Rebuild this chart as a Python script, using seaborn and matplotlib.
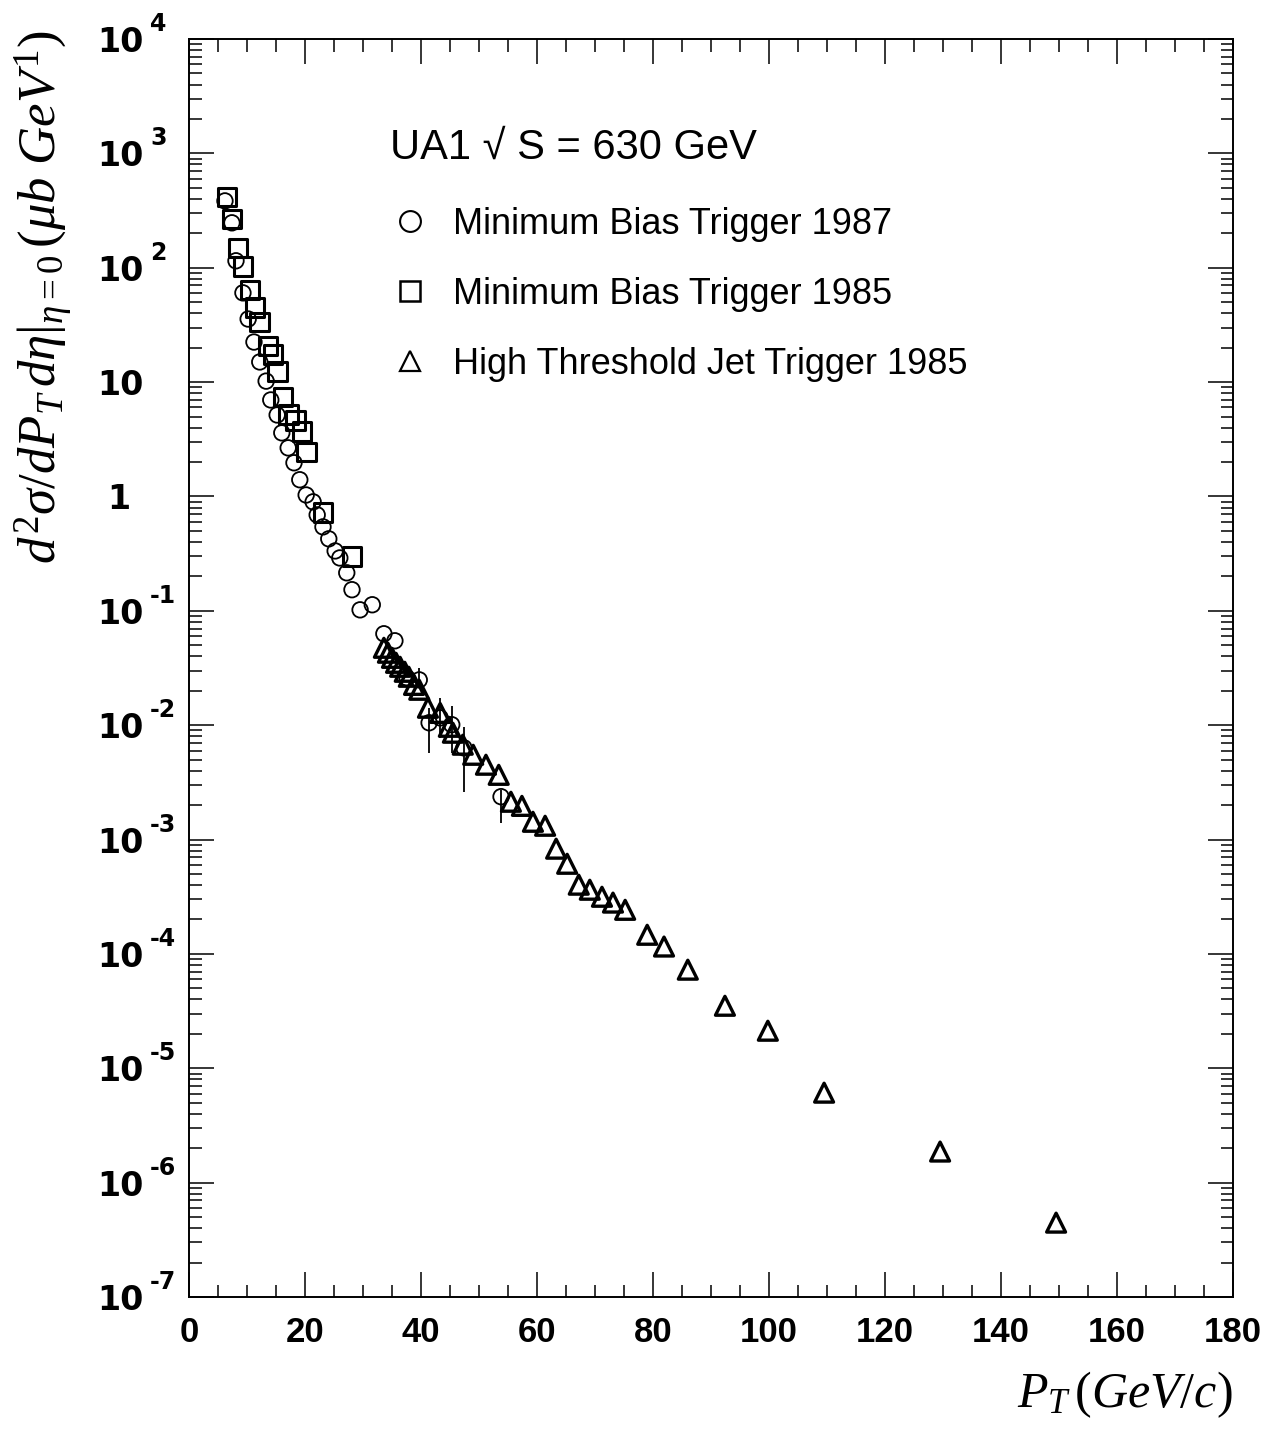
import numpy as np
import pandas as pd
import matplotlib
matplotlib.use("Agg")
import matplotlib.pyplot as plt
import seaborn as sns
from matplotlib.lines import Line2D
from matplotlib.transforms import blended_transform_factory, offset_copy
from matplotlib.ticker import FixedLocator, FixedFormatter, MultipleLocator, NullFormatter

# ---- dati ----
# Minimum Bias Trigger 1987 (cerchi)
pt_mb87 = [6.2, 7.4, 8.1, 9.3, 10.2, 11.2, 12.2, 13.3, 14.1, 15.2, 16.0, 17.1, 18.1, 19.1,
           20.2, 21.4, 22.1, 23.1, 24.1, 25.2, 26.0, 27.2, 28.1, 29.5, 31.6, 33.6, 35.5,
           37.6, 39.7, 41.4, 43.3, 45.3, 47.4, 53.8]
xs_mb87 = [384, 247, 115, 60.3, 35.6, 22.4, 15.0, 10.2, 6.98, 5.16, 3.60, 2.66, 1.97, 1.40,
           1.03, 0.897, 0.690, 0.542, 0.426, 0.334, 0.290, 0.215, 0.153, 0.102, 0.113, 0.0630,
           0.0547, 0.0259, 0.0249, 0.0105, 0.0116, 0.0101, 0.00634, 0.00237]
# estremi delle barre d'errore (solo ultimi punti)
err_pt = [39.7, 41.4, 43.3, 45.3, 47.4, 53.8]
err_hi = [0.0318, 0.0142, 0.0174, 0.0148, 0.00968, 0.00272]
err_lo = [0.0217, 0.00574, 0.00776, 0.00574, 0.00262, 0.00140]

# Minimum Bias Trigger 1985 (quadrati)
pt_mb85 = [6.55, 7.4, 8.45, 9.3, 10.5, 11.4, 12.2, 13.6, 14.5, 15.3, 16.2, 17.2, 18.3, 19.5,
           20.3, 23.1, 28.1]
xs_mb85 = [416, 267, 149, 102, 64, 45, 33.6, 20.7, 17.3, 12.3, 7.4, 5.2, 4.6, 3.7, 2.45,
           0.72, 0.30]

# High Threshold Jet Trigger 1985 (triangoli)
pt_jet = [33.6, 34.3, 35.0, 35.7, 36.4, 37.2, 37.9, 38.8, 39.7, 41.2, 43.3, 44.8, 45.5, 47.2,
          49.0, 51.2, 53.4, 55.5, 57.4, 59.3, 61.4, 63.3, 65.2, 67.2, 69.1, 71.2, 73.1, 75.2,
          79.0, 81.9, 86.0, 92.4, 99.8, 109.5, 129.5, 149.5]
xs_jet = [0.0475, 0.0430, 0.0388, 0.0351, 0.0324, 0.0293, 0.0265, 0.0225, 0.0204, 0.0142,
          0.0128, 0.00968, 0.00859, 0.00675, 0.00551, 0.00451, 0.00368, 0.00214, 0.00197,
          0.00143, 0.00132, 8.32e-4, 6.14e-4, 4.03e-4, 3.64e-4, 3.16e-4, 2.81e-4, 2.43e-4,
          1.47e-4, 1.16e-4, 7.28e-5, 3.52e-5, 2.13e-5, 6.12e-6, 1.87e-6, 4.47e-7]

labels = ["Minimum Bias Trigger 1987", "Minimum Bias Trigger 1985", "High Threshold Jet Trigger 1985"]
x_ticks = list(range(0, 181, 20))
y_exp = list(range(-7, 5))

sns.set_style("ticks")
plt.rcParams['font.family'] = ['Liberation Sans', 'DejaVu Sans']
plt.rcParams['text.color'] = 'black'
plt.rcParams['axes.labelcolor'] = 'black'
plt.rcParams['xtick.color'] = 'black'
plt.rcParams['ytick.color'] = 'black'
plt.rcParams['mathtext.fontset'] = 'custom'
plt.rcParams['mathtext.rm'] = 'Liberation Serif'
plt.rcParams['mathtext.it'] = 'Liberation Serif:italic'

fig = plt.figure(figsize=(12.68, 14.30), dpi=100)
ax = fig.add_axes([189/1268, 1-1297/1430, (1233-189)/1268, (1297-39)/1430])

df87 = pd.DataFrame({"pt": pt_mb87, "xs": xs_mb87})
df85 = pd.DataFrame({"pt": pt_mb85, "xs": xs_mb85})
dfj = pd.DataFrame({"pt": pt_jet, "xs": xs_jet})

# barre d'errore dei cerchi
e_y = [xs_mb87[pt_mb87.index(p)] for p in err_pt]
ax.errorbar(err_pt, e_y,
            yerr=[np.array(e_y) - np.array(err_lo), np.array(err_hi) - np.array(e_y)],
            fmt='none', ecolor='black', elinewidth=1.3, capsize=0, zorder=1)

sns.scatterplot(data=df87, x="pt", y="xs", marker='o', s=125, ax=ax, zorder=2)
ax.collections[-1].set_facecolor('none'); ax.collections[-1].set_edgecolor('black')
ax.collections[-1].set_linewidth(1.3)
sns.scatterplot(data=df85, x="pt", y="xs", marker='s', s=182, ax=ax, zorder=3)
ax.collections[-1].set_facecolor('none'); ax.collections[-1].set_edgecolor('black')
ax.collections[-1].set_linewidth(2.2)
sns.scatterplot(data=dfj, x="pt", y="xs", marker='^', s=185, ax=ax, zorder=4)
ax.collections[-1].set_facecolor('none'); ax.collections[-1].set_edgecolor('black')
ax.collections[-1].set_linewidth(2.4)

ax.set_yscale('log')
ax.set_xlim(0, 180)
ax.set_ylim(1e-7, 1e4)

# assi e tacche
for s in ax.spines.values():
    s.set_color('black'); s.set_linewidth(1.4)
ax.xaxis.set_major_locator(FixedLocator(x_ticks))
ax.xaxis.set_minor_locator(MultipleLocator(5))
ax.set_xticklabels([str(v) for v in x_ticks], fontsize=25, fontweight='bold')
ax.yaxis.set_major_locator(FixedLocator([10.0**e for e in y_exp]))
ax.yaxis.set_minor_locator(FixedLocator([m * 10.0**e for e in y_exp[:-1] for m in range(2, 10)]))
ax.yaxis.set_minor_formatter(NullFormatter())
ax.yaxis.set_major_formatter(FixedFormatter(['1 ' if e == 0 else '10' for e in y_exp]))
for lab in ax.get_yticklabels():
    lab.set_fontsize(24); lab.set_fontweight('bold'); lab.set_family('DejaVu Sans')
ax.tick_params(axis='y', pad=33)
ax.tick_params(axis='x', pad=14)
ax.tick_params(which='both', direction='in', top=True, right=True, color='black', width=1.1)
ax.tick_params(which='major', length=18)
ax.tick_params(which='minor', length=9)

# esponenti delle etichette y
exp_tr = offset_copy(blended_transform_factory(fig.transFigure, ax.transData),
                     fig=fig, x=0, y=15, units='dots')
for e in y_exp:
    if e in (0, 1):
        continue
    ax.text(150/1268, 10.0**e, str(e), transform=exp_tr, fontsize=17, fontweight='bold',
            family='DejaVu Sans', ha='left', va='center')

ax.set_ylabel(r'$d^2\sigma/dP_T\,d\eta|_{\eta=0}\,(\mu b\ GeV^{1})$', fontsize=38, loc='top')
ax.yaxis.set_label_coords(-0.11, 1.007)
ax.set_xlabel(r'$P_T\,(GeV/c)$', fontsize=36, loc='right', labelpad=14)

# legenda
ax.text(390/1268, 1-148/1430, 'UA1 \u221a S = 630 GeV', transform=fig.transFigure,
        fontsize=30, va='center', ha='left')
handles = [
    Line2D([], [], marker='o', ls='none', mfc='none', mec='black', ms=15, mew=1.5),
    Line2D([], [], marker='s', ls='none', mfc='none', mec='black', ms=14.5, mew=1.8),
    Line2D([], [], marker='^', ls='none', mfc='none', mec='black', ms=15, mew=1.6),
]
ax.legend(handles, labels, loc='upper left', bbox_to_anchor=(392/1268, 1-207/1430),
          bbox_transform=fig.transFigure, frameon=False, fontsize=26, borderpad=0,
          borderaxespad=0, handlelength=1.0, handletextpad=0.7, labelspacing=0.97)

plt.savefig("out.png", dpi=100)
